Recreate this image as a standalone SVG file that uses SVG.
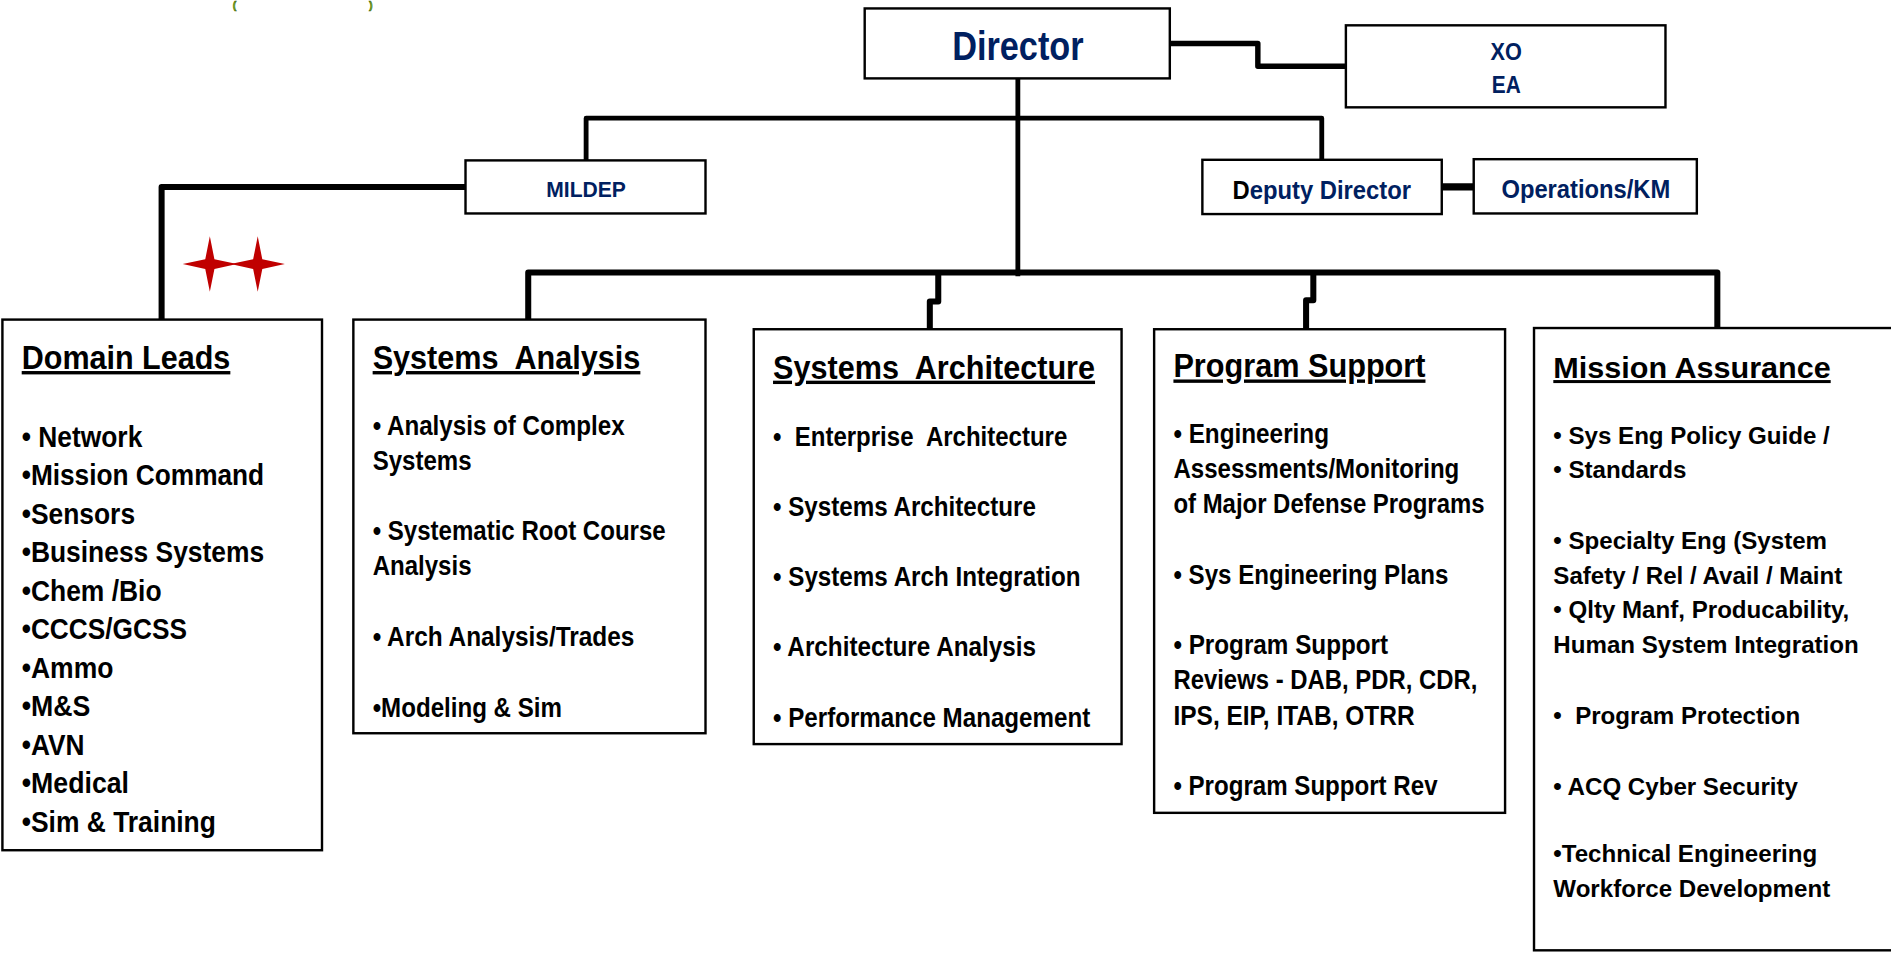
<svg xmlns="http://www.w3.org/2000/svg" width="1891" height="953" viewBox="0 0 1891 953">
<style>
.bg{fill:#ffffff}
.box{fill:#ffffff;stroke:#000000;stroke-width:2}
.con{fill:none;stroke:#000000;stroke-linejoin:round}
.nv{font-family:"Liberation Sans Narrow","Arial Narrow","Liberation Sans",sans-serif;font-weight:bold;fill:#002060}
.n{font-family:"Liberation Sans Narrow","Arial Narrow","Liberation Sans",sans-serif;font-weight:bold;fill:#000000}
.w{font-family:"Liberation Sans",Arial,sans-serif;font-weight:bold;fill:#000000}
.t{font-size:28px;text-decoration:underline}
.i25{font-size:25px}
.i23{font-size:23px}
.i20{font-size:20px}
.star{fill:#c00000}
.grn{font-family:"Liberation Sans",Arial,sans-serif;font-weight:bold;font-size:9px;fill:#7ab317;stroke:#3a5a00;stroke-width:0.4}
</style>
<defs>
<path id="star4" d="M0,-23 L3.8,-4 L22.5,0 L3.8,4 L0,23 L-3.8,4 L-22.5,0 L-3.8,-4 Z"/>
</defs>
<rect class="bg" x="0" y="0" width="1891" height="953"/>
<g transform="scale(1.20599)">
<g id="title-fragment">
<text class="grn" x="193" y="7.2">(</text>
<text class="grn" x="306" y="7.2">)</text>
</g>
<g id="connectors">
<path class="con" stroke-width="4.5" d="M970,36 H1043 V55 H1116"/>
<path class="con" stroke-width="4" d="M844,65 V229"/>
<path class="con" stroke-width="4" d="M486,133 V98 H1096 V132"/>
<path class="con" stroke-width="5" d="M386,155 H134 V265"/>
<path class="con" stroke-width="6" d="M1195,155 H1222"/>
<path class="con" stroke-width="5" d="M438,265 V226 H1424 V272"/>
<path class="con" stroke-width="5" d="M778,226 V250 H771 V273"/>
<path class="con" stroke-width="5" d="M1089,226 V249 H1083 V273"/>
</g>
<g id="director">
<rect class="box" x="717" y="7" width="253" height="58"/>
<text class="nv" x="844" y="50" font-size="34" text-anchor="middle" textLength="109" lengthAdjust="spacingAndGlyphs">Director</text>
</g>
<g id="xo-ea">
<rect class="box" x="1116" y="21" width="265" height="68"/>
<text class="nv" x="1249" y="50" font-size="20" text-anchor="middle" textLength="26" lengthAdjust="spacingAndGlyphs">XO</text>
<text class="nv" x="1249" y="77" font-size="20" text-anchor="middle" textLength="24" lengthAdjust="spacingAndGlyphs">EA</text>
</g>
<g id="mildep">
<rect class="box" x="386" y="133" width="199" height="44"/>
<text class="nv" x="486" y="163" font-size="18" text-anchor="middle" textLength="66" lengthAdjust="spacingAndGlyphs">MILDEP</text>
</g>
<g id="deputy-director">
<rect class="box" x="997" y="132.5" width="198.5" height="45"/>
<text class="nv" x="1096" y="165" font-size="22" text-anchor="middle" textLength="148" lengthAdjust="spacingAndGlyphs"><tspan fill="#000000">D</tspan>eputy Director</text>
</g>
<g id="operations-km">
<rect class="box" x="1222" y="132" width="185" height="45"/>
<text class="nv" x="1315" y="164" font-size="22" text-anchor="middle" textLength="140" lengthAdjust="spacingAndGlyphs">Operations/KM</text>
</g>
<g id="stars">
<use href="#star4" class="star" x="174" y="219"/>
<use href="#star4" class="star" x="213.7" y="219"/>
</g>
<g id="domain-leads">
<rect class="box" x="2" y="265" width="265" height="440"/>
<text class="n t" x="18" y="306" textLength="173" lengthAdjust="spacingAndGlyphs">Domain Leads</text>
<text class="n i25" x="18" y="370.6" textLength="100" lengthAdjust="spacingAndGlyphs">• Network</text>
<text class="n i25" x="18" y="402.5" textLength="201" lengthAdjust="spacingAndGlyphs">•Mission Command</text>
<text class="n i25" x="18" y="434.4" textLength="94" lengthAdjust="spacingAndGlyphs">•Sensors</text>
<text class="n i25" x="18" y="466.3" textLength="201" lengthAdjust="spacingAndGlyphs">•Business Systems</text>
<text class="n i25" x="18" y="498.2" textLength="116" lengthAdjust="spacingAndGlyphs">•Chem /Bio</text>
<text class="n i25" x="18" y="530.1" textLength="137" lengthAdjust="spacingAndGlyphs">•CCCS/GCSS</text>
<text class="n i25" x="18" y="562" textLength="76" lengthAdjust="spacingAndGlyphs">•Ammo</text>
<text class="n i25" x="18" y="593.9" textLength="57" lengthAdjust="spacingAndGlyphs">•M&amp;S</text>
<text class="n i25" x="18" y="625.8" textLength="52" lengthAdjust="spacingAndGlyphs">•AVN</text>
<text class="n i25" x="18" y="657.7" textLength="89" lengthAdjust="spacingAndGlyphs">•Medical</text>
<text class="n i25" x="18" y="689.6" textLength="161" lengthAdjust="spacingAndGlyphs">•Sim &amp; Training</text>
</g>
<g id="systems-analysis">
<rect class="box" x="293" y="265" width="292" height="343"/>
<text class="n t" x="309" y="306" textLength="222" lengthAdjust="spacingAndGlyphs" xml:space="preserve">Systems  Analysis</text>
<text class="n i23" x="309" y="360.5" textLength="209" lengthAdjust="spacingAndGlyphs">• Analysis of Complex</text>
<text class="n i23" x="309" y="389.5" textLength="82" lengthAdjust="spacingAndGlyphs">Systems</text>
<text class="n i23" x="309" y="447.5" textLength="243" lengthAdjust="spacingAndGlyphs">• Systematic Root Course</text>
<text class="n i23" x="309" y="476.5" textLength="82" lengthAdjust="spacingAndGlyphs">Analysis</text>
<text class="n i23" x="309" y="535.5" textLength="217" lengthAdjust="spacingAndGlyphs">• Arch Analysis/Trades</text>
<text class="n i23" x="309" y="594.5" textLength="157" lengthAdjust="spacingAndGlyphs">•Modeling &amp; Sim</text>
</g>
<g id="systems-architecture">
<rect class="box" x="625" y="273" width="305" height="344"/>
<text class="n t" x="641" y="314" textLength="267" lengthAdjust="spacingAndGlyphs" xml:space="preserve">Systems  Architecture</text>
<text class="n i23" x="641" y="369.5" textLength="244" lengthAdjust="spacingAndGlyphs" xml:space="preserve">•  Enterprise  Architecture</text>
<text class="n i23" x="641" y="427.5" textLength="218" lengthAdjust="spacingAndGlyphs">• Systems Architecture</text>
<text class="n i23" x="641" y="485.5" textLength="255" lengthAdjust="spacingAndGlyphs">• Systems Arch Integration</text>
<text class="n i23" x="641" y="544" textLength="218" lengthAdjust="spacingAndGlyphs">• Architecture Analysis</text>
<text class="n i23" x="641" y="602.5" textLength="263" lengthAdjust="spacingAndGlyphs">• Performance Management</text>
</g>
<g id="program-support">
<rect class="box" x="957" y="273" width="291" height="401"/>
<text class="n t" x="973" y="313" textLength="209" lengthAdjust="spacingAndGlyphs">Program Support</text>
<text class="n i23" x="973" y="367.5" textLength="129" lengthAdjust="spacingAndGlyphs">• Engineering</text>
<text class="n i23" x="973" y="396.7" textLength="237" lengthAdjust="spacingAndGlyphs">Assessments/Monitoring</text>
<text class="n i23" x="973" y="425.7" textLength="258" lengthAdjust="spacingAndGlyphs">of Major Defense Programs</text>
<text class="n i23" x="973" y="484.3" textLength="228" lengthAdjust="spacingAndGlyphs">• Sys Engineering Plans</text>
<text class="n i23" x="973" y="542" textLength="178" lengthAdjust="spacingAndGlyphs">• Program Support</text>
<text class="n i23" x="973" y="571.5" textLength="252" lengthAdjust="spacingAndGlyphs">Reviews - DAB, PDR, CDR,</text>
<text class="n i23" x="973" y="601" textLength="200" lengthAdjust="spacingAndGlyphs">IPS, EIP, ITAB, OTRR</text>
<text class="n i23" x="973" y="659.5" textLength="219" lengthAdjust="spacingAndGlyphs">• Program Support Rev</text>
</g>
<g id="mission-assurance">
<rect class="box" x="1272" y="272" width="320" height="516"/>
<text class="w" x="1288" y="313.5" font-size="25" text-decoration="underline" textLength="230" lengthAdjust="spacingAndGlyphs">Mission Assurance</text>
<text class="w i20" x="1288" y="368">• Sys Eng Policy Guide /</text>
<text class="w i20" x="1288" y="396.5">• Standards</text>
<text class="w i20" x="1288" y="455.5">• Specialty Eng (System</text>
<text class="w i20" x="1288" y="484.5">Safety / Rel / Avail / Maint</text>
<text class="w i20" x="1288" y="512.5">• Qlty Manf, Producability,</text>
<text class="w i20" x="1288" y="541.5">Human System Integration</text>
<text class="w i20" x="1288" y="600.5" xml:space="preserve">•  Program Protection</text>
<text class="w i20" x="1288" y="659.5">• ACQ Cyber Security</text>
<text class="w i20" x="1288" y="714.5">•Technical Engineering</text>
<text class="w i20" x="1288" y="743.5">Workforce Development</text>
</g>
</g>
</svg>
